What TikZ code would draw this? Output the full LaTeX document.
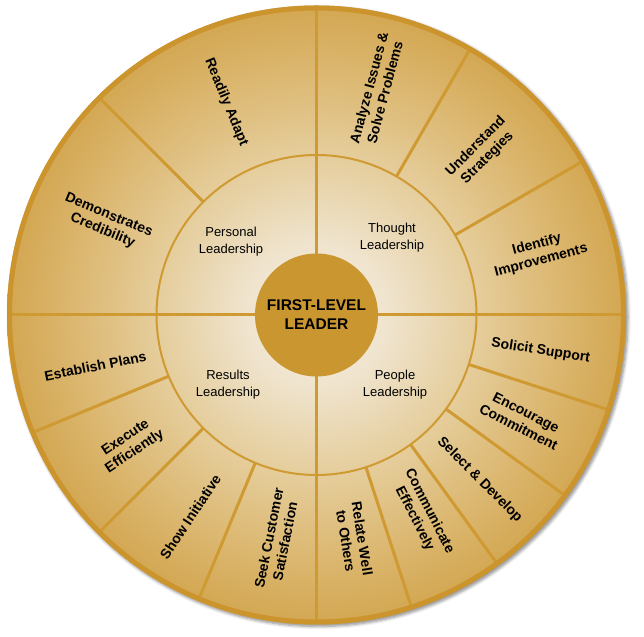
\documentclass[tikz,border=0pt]{standalone}
\usepackage{fontspec}
\setmainfont{Liberation Sans}
\usetikzlibrary{shadows.blur}
\definecolor{goldline}{RGB}{208,154,50}
\definecolor{goldrim}{RGB}{204,148,44}
\definecolor{goldhub}{RGB}{201,150,47}
\definecolor{glowA}{RGB}{245,239,229}
\definecolor{glowB}{RGB}{239,227,204}
\definecolor{glowC}{RGB}{229,205,155}
\definecolor{glowD}{RGB}{219,182,110}
\definecolor{glowE}{RGB}{211,167,82}
\pgfdeclareradialshading{wheelglow}{\pgfpoint{0bp}{0bp}}{color(0bp)=(glowA); color(6bp)=(glowB); color(13bp)=(glowC); color(20bp)=(glowD); color(25bp)=(glowE); color(50bp)=(glowE)}
\tikzset{
  divider/.style={draw=goldline, line width=3pt},
  ringline/.style={draw=goldline, line width=2pt},
  rimline/.style={draw=goldrim, line width=5pt},
  hub/.style={circle, fill=goldhub, inner sep=0pt, minimum size=123pt, align=center,
    font=\fontsize{15.5}{19}\selectfont\bfseries},
  area/.style={align=center, inner sep=0pt, font=\fontsize{13}{17}\selectfont},
  skill/.style={align=center, inner sep=0pt, font=\fontsize{14}{16.5}\selectfont\bfseries}
}
\begin{document}
\begin{tikzpicture}[x=1pt,y=1pt]
\useasboundingbox (0,0) rectangle (644,636);
\coordinate (C) at (316.5,321);
\path[blur shadow={shadow xshift=2pt,shadow yshift=-2pt,shadow blur radius=3pt,shadow blur steps=6,shadow opacity=45}, shading=wheelglow] (C) circle[radius=309.5];
\begin{scope}[shift={(C)}]
  \foreach \a in {30,60,135,202.5,225,247.5,-18,-36,-54,-72}
    \draw[divider] (\a:160) -- (\a:306);
  \foreach \a in {0,90,180,270}
    \draw[divider] (\a:60) -- (\a:306);
  \draw[ringline] (0,0) circle[radius=160];
  \draw[rimline] (0,0) circle[radius=307];
  \node[hub] (hub) at (0,0) {FIRST-LEVEL\\LEADER};

  \node[area] (personal) at (-85.5,73) {Personal\\Leadership};
  \node[area] (thought) at (75.5,77) {Thought\\Leadership};
  \node[area] (results) at (-88.5,-70) {Results\\Leadership};
  \node[area] (people) at (78.5,-70) {People\\Leadership};

  \node[skill, rotate=-67.5] (adapt) at (113:231) {Readily Adapt};
  \node[skill, rotate=-22.5] (cred) at (156.5:230) {Demonstrates\\Credibility};
  \node[skill, rotate=75] (analyze) at (75:233) {Analyze Issues \&\\Solve Problems};
  \node[skill, rotate=45] (understand) at (44.6:232) {Understand\\Strategies};
  \node[skill, rotate=15] (identify) at (15.6:231) {Identify\\Improvements};
  \node[skill, rotate=-9] (solicit) at (-9.1:227) {Solicit Support};
  \node[skill, rotate=-27] (encourage) at (-27:231) {Encourage\\Commitment};
  \node[skill, rotate=-45] (select) at (-45.3:232) {Select \& Develop};
  \node[skill, rotate=-63] (communicate) at (-62.2:226) {Communicate\\Effectively};
  \node[skill, rotate=-81] (relate) at (-80.5:228) {Relate Well\\to Others};
  \node[skill, rotate=11.25] (establish) at (193:227) {Establish Plans};
  \node[skill, rotate=33.75] (execute) at (214.9:227) {Execute\\Efficiently};
  \node[skill, rotate=56.25] (initiative) at (238:238) {Show Initiative};
  \node[skill, rotate=78.75] (customer) at (260:228) {Seek Customer\\Satisfaction};
\end{scope}
\end{tikzpicture}
\end{document}
